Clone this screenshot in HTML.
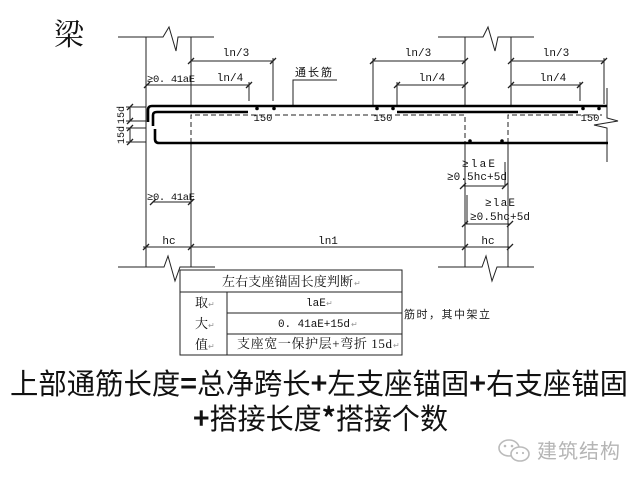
<!DOCTYPE html>
<html><head><meta charset="utf-8"><style>
html,body{margin:0;padding:0;background:#fff;}
svg{display:block;}
.m{font-family:"Liberation Mono","Noto Sans CJK SC",monospace;font-size:11px;fill:#111;}
.s{font-family:"Liberation Serif","Noto Serif CJK SC",serif;fill:#111;}
.pm{font-size:8px;fill:#999;}
</style></head><body>
<svg width="640" height="480" viewBox="0 0 640 480" xmlns="http://www.w3.org/2000/svg">
<rect width="640" height="480" fill="#fff"/>
<text x="54" y="45" font-family="'Noto Serif CJK SC','Liberation Serif',serif" font-size="30" fill="#111">梁</text>

<g stroke="#222" stroke-width="1" fill="none">
  <!-- top break lines -->
  <polyline points="118,37 163,37 169,27 176,51 178,37 214,37"/>
  <polyline points="438,37 483,37 488,27 495,51 498,37 534,37"/>
  <!-- bottom break lines -->
  <polyline points="118,267 164,267 168,256 175,281 180,267 215,267"/>
  <polyline points="438,267 482,267 486,256 492,281 497,267 534,267"/>
  <!-- column lines -->
  <line x1="146" y1="37" x2="146" y2="267"/>
  <line x1="191" y1="37" x2="191" y2="106"/>
  <line x1="191" y1="143" x2="191" y2="267"/>
  <line x1="465" y1="37" x2="465" y2="106"/>
  <line x1="465" y1="143" x2="465" y2="267"/>
  <line x1="511" y1="37" x2="511" y2="106"/>
  <line x1="508" y1="143" x2="508" y2="267"/>
  <!-- right edge & break -->
  <polyline points="607,88 607,118 618,121 594,125 607,128 607,162"/>
  <!-- dashed -->
  <path d="M191,143 L191,115 L465,115 L465,143" stroke-dasharray="5,3"/>
  <path d="M508,143 L508,115 L602,115" stroke-dasharray="5,3"/>

  <!-- top dimensions -->
  <line x1="191" y1="61" x2="273" y2="61"/>
  <line x1="273" y1="58" x2="273" y2="101"/>
  <line x1="147" y1="85" x2="249" y2="85"/>
  <line x1="249" y1="82" x2="249" y2="101"/>
  <line x1="373" y1="61" x2="465" y2="61"/>
  <line x1="373" y1="58" x2="373" y2="106"/>
  <line x1="397" y1="85" x2="465" y2="85"/>
  <line x1="397" y1="82" x2="397" y2="106"/>
  <line x1="511" y1="61" x2="604" y2="61"/>
  <line x1="604" y1="58" x2="604" y2="104"/>
  <line x1="511" y1="85" x2="580" y2="85"/>
  <line x1="580" y1="82" x2="580" y2="101"/>
  <!-- leader for 通长筋 -->
  <polyline points="293,106 293,80 337,80"/>

  <!-- 15d dims -->
  <line x1="126" y1="107" x2="146" y2="107"/>
  <line x1="126" y1="121" x2="146" y2="121"/>
  <line x1="126" y1="128" x2="146" y2="128"/>
  <line x1="126" y1="142" x2="146" y2="142"/>
  <line x1="130" y1="107" x2="130" y2="121"/>
  <line x1="130" y1="128" x2="130" y2="142"/>

  <!-- lower left dims -->
  <line x1="153" y1="202" x2="191" y2="202"/>
  <line x1="143" y1="247" x2="510" y2="247"/>

  <!-- middle dims -->
  <line x1="463" y1="186" x2="505" y2="186"/>
  <line x1="505" y1="162" x2="505" y2="186"/>
  <line x1="465" y1="224" x2="510" y2="224"/>
  <line x1="467" y1="195" x2="467" y2="224"/>

  <!-- ticks -->
  <g stroke-width="1.3">
    <line x1="188" y1="64" x2="194" y2="58"/><line x1="270" y1="64" x2="276" y2="58"/>
    <line x1="144" y1="88" x2="150" y2="82"/><line x1="246" y1="88" x2="252" y2="82"/>
    <line x1="370" y1="64" x2="376" y2="58"/><line x1="462" y1="64" x2="468" y2="58"/>
    <line x1="394" y1="88" x2="400" y2="82"/><line x1="462" y1="88" x2="468" y2="82"/>
    <line x1="508" y1="64" x2="514" y2="58"/><line x1="601" y1="64" x2="607" y2="58"/>
    <line x1="508" y1="88" x2="514" y2="82"/><line x1="577" y1="88" x2="583" y2="82"/>
    <line x1="127" y1="110" x2="133" y2="104"/><line x1="127" y1="124" x2="133" y2="118"/>
    <line x1="127" y1="131" x2="133" y2="125"/><line x1="127" y1="145" x2="133" y2="139"/>
    <line x1="150" y1="205" x2="156" y2="199"/><line x1="188" y1="205" x2="194" y2="199"/>
    <line x1="143" y1="250" x2="149" y2="244"/><line x1="188" y1="250" x2="194" y2="244"/>
    <line x1="462" y1="250" x2="468" y2="244"/><line x1="507" y1="250" x2="513" y2="244"/>
    <line x1="460" y1="189" x2="466" y2="183"/><line x1="502" y1="189" x2="508" y2="183"/>
    <line x1="462" y1="227" x2="468" y2="221"/><line x1="507" y1="227" x2="513" y2="221"/>
  </g>
</g>

<!-- rebars -->
<g stroke="#000" stroke-width="2.6" fill="none" stroke-linecap="butt">
  <path d="M148,122 L148,110 Q148,106 152,106 L607,106"/>
  <path d="M153,126 L153,115 Q153,112 157,112 L248,112"/>
  <path d="M397,112 L578,112"/>
  <path d="M155,129 L155,139 Q155,143 159,143 L608,143"/>
</g>
<g fill="#000">
  <circle cx="257" cy="108.5" r="1.8"/><circle cx="274" cy="108.5" r="1.8"/>
  <circle cx="377" cy="108.5" r="1.8"/><circle cx="393" cy="108.5" r="1.8"/>
  <circle cx="583" cy="108.5" r="1.8"/><circle cx="599" cy="108.5" r="1.8"/>
  <circle cx="470" cy="141" r="1.8"/><circle cx="502" cy="141" r="1.8"/>
</g>

<!-- labels -->
<g class="m">
  <text x="236" y="56" text-anchor="middle">ln/3</text>
  <text x="230" y="81" text-anchor="middle">ln/4</text>
  <text x="418" y="56" text-anchor="middle">ln/3</text>
  <text x="432" y="81" text-anchor="middle">ln/4</text>
  <text x="556" y="56" text-anchor="middle">ln/3</text>
  <text x="553" y="81" text-anchor="middle">ln/4</text>
  <text x="147" y="82" font-size="10.5" textLength="48">≥0. 41aE</text>
  <text x="147" y="200" font-size="10.5" textLength="48">≥0. 41aE</text>
  <text x="263" y="121" text-anchor="middle" font-size="10.5">150</text>
  <text x="383" y="121" text-anchor="middle" font-size="10.5">150</text>
  <text x="590" y="121" text-anchor="middle" font-size="10.5">150</text>
  <text x="169" y="244" text-anchor="middle">hc</text>
  <text x="328" y="244" text-anchor="middle">ln1</text>
  <text x="488" y="244" text-anchor="middle">hc</text>
  <text x="462" y="167" textLength="33">≥laE</text>
  <text x="447" y="180" textLength="60">≥0.5hc+5d</text>
  <text x="485" y="206" textLength="30">≥laE</text>
  <text x="470" y="220" textLength="60">≥0.5hc+5d</text>
  <text transform="translate(124,115) rotate(-90)" text-anchor="middle" font-size="10">15d</text>
  <text transform="translate(124,135) rotate(-90)" text-anchor="middle" font-size="10">15d</text>
</g>
<text x="295" y="76" font-family="'Noto Sans CJK SC',sans-serif" font-size="11" fill="#111" textLength="37">通长筋</text>

<!-- table -->
<g stroke="#222" stroke-width="1" fill="none">
  <rect x="180" y="270" width="222" height="85" fill="#fff"/>
  <line x1="180" y1="292" x2="402" y2="292"/>
  <line x1="227" y1="292" x2="227" y2="355"/>
  <line x1="227" y1="313" x2="402" y2="313"/>
  <line x1="227" y1="334" x2="402" y2="334"/>
</g>
<g class="s" font-size="13">
  <text x="222" y="286" textLength="131">左右支座锚固长度判断</text><text x="354" y="286" class="pm">↵</text>
  <text x="195" y="307">取</text><text x="208" y="307" class="pm">↵</text>
  <text x="195" y="328">大</text><text x="208" y="328" class="pm">↵</text>
  <text x="195" y="349">值</text><text x="208" y="349" class="pm">↵</text>
  <text x="306" y="306" font-family="'Liberation Mono',monospace" font-size="11">laE</text><text x="326" y="306" class="pm">↵</text>
  <text x="278" y="327" font-family="'Liberation Mono',monospace" font-size="11" textLength="72">0. 41aE+15d</text><text x="351" y="327" class="pm">↵</text>
  <text x="237" y="348" textLength="155">支座宽一保护层+弯折 15d</text><text x="393" y="348" class="pm">↵</text>
</g>
<text x="404" y="318" font-family="'Noto Sans CJK SC',sans-serif" font-size="11" fill="#222" textLength="86">筋时，其中架立</text>

<!-- bottom formula -->
<g font-family="'Noto Sans CJK SC','WenQuanYi Zen Hei',sans-serif" font-size="29" fill="#111">
  <text x="10" y="394" textLength="618" lengthAdjust="spacingAndGlyphs">上部通筋长度<tspan font-weight="bold">=</tspan>总净跨长<tspan font-weight="bold">+</tspan>左支座锚固<tspan font-weight="bold">+</tspan>右支座锚固</text>
  <text x="193" y="429" textLength="255" lengthAdjust="spacingAndGlyphs"><tspan font-weight="bold">+</tspan>搭接长度<tspan font-weight="bold">*</tspan>搭接个数</text>
</g>

<!-- watermark -->
<g fill="none" stroke="#bbb" stroke-width="1.6">
  <ellipse cx="509" cy="448" rx="10" ry="8"/>
  <ellipse cx="520" cy="454" rx="9" ry="7" fill="#fff"/>
</g>
<g fill="#bbb"><circle cx="505" cy="446" r="1.3"/><circle cx="512" cy="446" r="1.3"/><circle cx="517" cy="453" r="1.1"/><circle cx="523" cy="453" r="1.1"/></g>
<text x="537" y="458" font-family="'Noto Sans CJK SC',sans-serif" font-size="20" fill="#b5b5b5" textLength="83">建筑结构</text>
</svg>
</body></html>
